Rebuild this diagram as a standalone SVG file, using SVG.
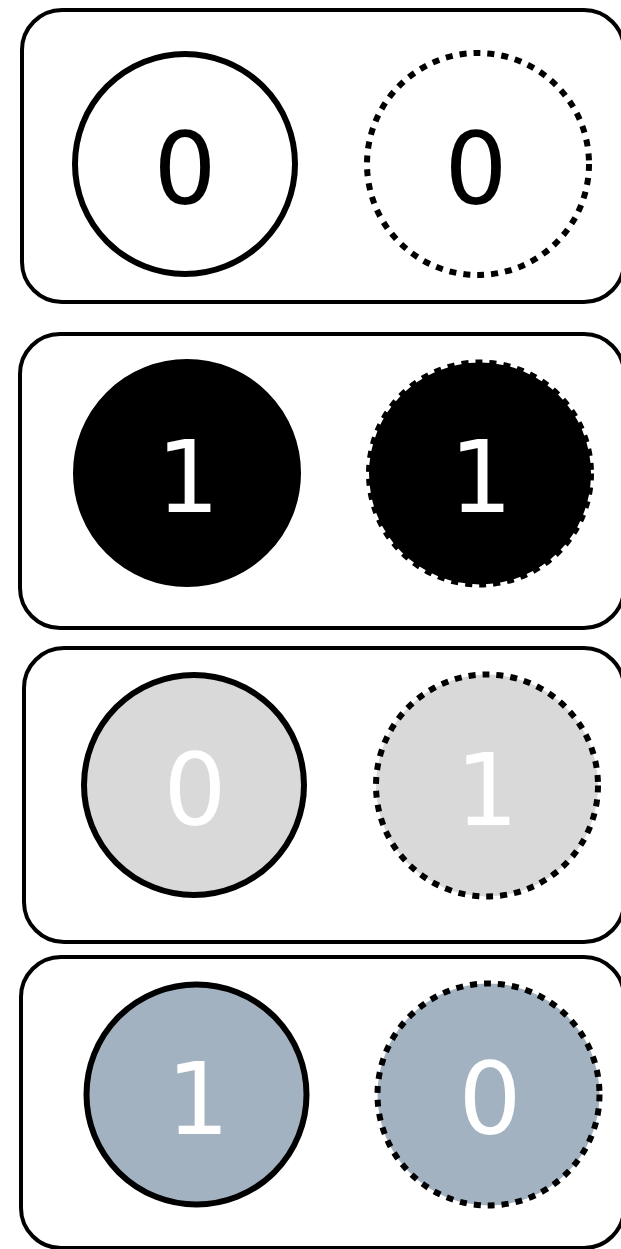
<svg xmlns="http://www.w3.org/2000/svg" width="621" height="1249" viewBox="0 0 621 1249">
<style>
.box{fill:#fff;stroke:#000;stroke-width:4}
.solid{stroke:#000;stroke-width:6}
.dot{stroke:#000;stroke-width:6;stroke-dasharray:7 7}
.t{font-family:"DejaVu Sans",sans-serif;font-size:99px;text-anchor:middle}
.blk{fill:#000}
.wht{fill:#fff}
</style>
<rect width="621" height="1249" fill="#fff"/>
<g id="row1">
<rect class="box" x="22" y="10" width="602" height="292" rx="40"/>
<g id="n1a"><circle class="solid" cx="185" cy="164" r="110" fill="#fff"/><text class="t blk" x="185" y="204">0</text></g>
<g id="n1b"><circle class="dot" cx="478" cy="164" r="111" fill="#fff"/><text class="t blk" x="476" y="204">0</text></g>
</g>
<g id="row2">
<rect class="box" x="20" y="334" width="604" height="294" rx="40"/>
<g id="n2a"><circle class="solid" cx="187" cy="473" r="111" fill="#000"/><text class="t wht" x="188" y="512">1</text></g>
<g id="n2b"><circle class="dot" cx="480" cy="473.5" r="111" fill="#000"/><text class="t wht" x="481" y="512">1</text></g>
</g>
<g id="row3">
<rect class="box" x="24" y="648" width="600" height="294" rx="40"/>
<g id="n3a"><circle class="solid" cx="194" cy="785" r="110" fill="#d9d9d9"/><text class="t wht" x="195" y="825">0</text></g>
<g id="n3b"><circle class="dot" cx="487" cy="785.5" r="111" fill="#d9d9d9"/><text class="t wht" x="487" y="825">1</text></g>
</g>
<g id="row4">
<rect class="box" x="21" y="957" width="603" height="291" rx="40"/>
<g id="n4a"><circle class="solid" cx="196.5" cy="1094.5" r="110" fill="#a3b2c1"/><text class="t wht" x="198" y="1134">1</text></g>
<g id="n4b"><circle class="dot" cx="488.5" cy="1094.5" r="111" fill="#a3b2c1"/><text class="t wht" x="490" y="1134">0</text></g>
</g>
<g id="connectors"/>
</svg>
